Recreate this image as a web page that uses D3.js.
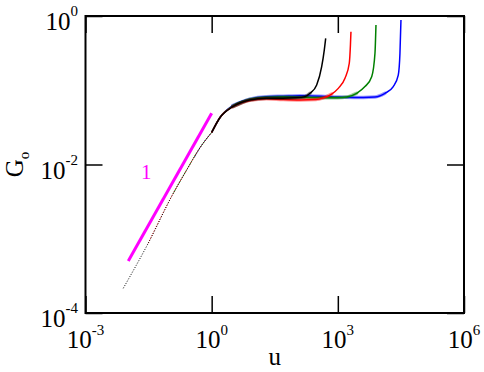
<!DOCTYPE html>
<html>
<head>
<meta charset="utf-8">
<script src="https://cdn.jsdelivr.net/npm/d3@7"></script>
<style>
  body { margin: 0; background: #fff; }
  text { font-family: "Liberation Serif", "Times New Roman", serif; }
</style>
</head>
<body>
<script>
// tick values and labels
var xTicks = [1e-3, 1e0, 1e3, 1e6];
var xExp = ["-3", "0", "3", "6"];
var yTicks = [1e-4, 1e-2, 1e0];
var yExp = ["-4", "-2", "0"];

// four data sets (u, G_o)
var uBlack = [0.0079, 0.031, 0.1225, 0.25, 0.527, 1, 1.58, 3.16, 8, 20, 50, 100, 166, 218, 314, 413, 476, 514];
var gBlack = [2.15e-4, 8.7e-4, 0.0041, 0.0083, 0.0168, 0.027, 0.043, 0.060, 0.074, 0.078, 0.078, 0.079, 0.082, 0.091, 0.118, 0.208, 0.348, 0.50];

var uRed = [0.031, 0.1225, 0.25, 0.527, 1, 1.58, 3.16, 8, 20, 50, 126, 300, 451, 714, 1025, 1479, 1871, 1995, 2051];
var gRed = [8.7e-4, 0.0041, 0.0083, 0.0168, 0.027, 0.043, 0.060, 0.073, 0.077, 0.075, 0.074, 0.075, 0.079, 0.089, 0.106, 0.145, 0.231, 0.41, 0.615];

var uGreen = [0.1225, 0.25, 0.527, 1, 1.58, 3.16, 8, 20, 50, 126, 400, 1000, 1622, 2805, 4416, 6383, 7640, 8070];
var gGreen = [0.0041, 0.0083, 0.0168, 0.027, 0.043, 0.061, 0.075, 0.080, 0.081, 0.080, 0.079, 0.079, 0.081, 0.091, 0.112, 0.152, 0.315, 0.756];

var uBlue = [0.4, 0.527, 1, 1.58, 3.16, 8, 20, 50, 126, 400, 1000, 2500, 4027, 7640, 13200, 20800, 27350, 30000, 31700];
var gBlue = [0.0128, 0.0168, 0.027, 0.043, 0.062, 0.076, 0.082, 0.083, 0.084, 0.083, 0.081, 0.080, 0.080, 0.081, 0.091, 0.112, 0.160, 0.315, 0.883];

// slope-one guide line
var guideU = [0.0104, 1];
var guideG = [5.0e-4, 0.049];
var guideLabel = "1";

var series = [
  {name: "blue", color: "#0000ff", u: uBlue, g: gBlue},
  {name: "green", color: "#008000", u: uGreen, g: gGreen},
  {name: "red", color: "#ff0000", u: uRed, g: gRed},
  {name: "black", color: "#000000", u: uBlack, g: gBlack}
];

var margin = {top: 16, right: 20, bottom: 59, left: 85.5},
    width = 484 - margin.left - margin.right,
    height = 372 - margin.top - margin.bottom;

var svg = d3.select("body")
    .append("svg")
    .attr("width", 484)
    .attr("height", 372)
    .append("g")
    .attr("transform", "translate(" + margin.left + "," + margin.top + ")");

var x = d3.scaleLog().domain([1e-3, 1e6]).range([0, width]);
var y = d3.scaleLog().domain([1e-4, 1]).range([height, 0]);

var line = d3.line()
    .x(function(d) { return x(d[0]); })
    .y(function(d) { return y(d[1]); })
    .curve(d3.curveMonotoneX);

// curves: dotted thin at small u, noisy band on the plateau
series.forEach(function(s) {
  var pts = s.u.map(function(u, i) { return [u, s.g[i]]; });
  var low = pts.filter(function(d) { return d[0] <= 1; });
  var high = pts.filter(function(d) { return d[0] >= 1; });
  var band = pts.filter(function(d) { return d[0] >= 3.16 && d[1] < 0.095; });

  svg.append("path")
      .attr("d", line(low))
      .style("fill", "none")
      .style("stroke", s.color)
      .style("stroke-width", 1)
      .style("stroke-dasharray", "1,1.6");
  svg.append("path")
      .attr("d", line(band))
      .style("fill", "none")
      .style("stroke", s.color)
      .style("stroke-width", 3.5)
      .style("stroke-linecap", "round")
      .style("opacity", 0.4);
  svg.append("path")
      .attr("d", line(high))
      .style("fill", "none")
      .style("stroke", s.color)
      .style("stroke-width", 1.5);
});

// guide line
svg.append("path")
    .attr("d", d3.line()
        .x(function(d) { return x(d[0]); })
        .y(function(d) { return y(d[1]); })(guideU.map(function(u, i) { return [u, guideG[i]]; })))
    .style("stroke", "#ff00ff")
    .style("stroke-width", 3)
    .style("fill", "none");

svg.append("text")
    .attr("x", x(0.028))
    .attr("y", y(0.0064))
    .attr("text-anchor", "middle")
    .style("font-size", "21px")
    .style("fill", "#ff00ff")
    .text(guideLabel);

// frame
svg.append("rect")
    .attr("width", width)
    .attr("height", height)
    .style("fill", "none")
    .style("stroke", "#000")
    .style("stroke-width", 2);

// inward ticks, all four sides
var tickLen = 17;
svg.append("g")
    .attr("transform", "translate(0," + height + ")")
    .call(d3.axisBottom(x).tickValues(xTicks).tickSizeInner(-tickLen).tickSizeOuter(0).tickFormat(""));
svg.append("g")
    .call(d3.axisTop(x).tickValues(xTicks).tickSizeInner(-tickLen).tickSizeOuter(0).tickFormat(""));
svg.append("g")
    .call(d3.axisLeft(y).tickValues(yTicks).tickSizeInner(-tickLen).tickSizeOuter(0).tickFormat(""));
svg.append("g")
    .attr("transform", "translate(" + width + ",0)")
    .call(d3.axisRight(y).tickValues(yTicks).tickSizeInner(-tickLen).tickSizeOuter(0).tickFormat(""));
svg.selectAll(".domain").remove();
svg.selectAll(".tick line").style("stroke", "#000").style("stroke-width", 1.5);

// tick labels
var xl = svg.append("g").selectAll("text")
    .data(xTicks)
    .enter().append("text")
    .attr("x", function(d) { return x(d); })
    .attr("y", height + 35)
    .attr("text-anchor", "middle")
    .style("font-size", "25px");
xl.append("tspan").text("10");
xl.append("tspan").attr("dy", -13).style("font-size", "15px").text(function(d, i) { return xExp[i]; });

var yl = svg.append("g").selectAll("text")
    .data(yTicks)
    .enter().append("text")
    .attr("x", -7.5)
    .attr("y", function(d) { return y(d) + 14; })
    .attr("text-anchor", "end")
    .style("font-size", "25px");
yl.append("tspan").text("10");
yl.append("tspan").attr("dy", -14).style("font-size", "15px").text(function(d, i) { return yExp[i]; });

// axis titles
svg.append("text")
    .attr("x", width / 2)
    .attr("y", height + 52)
    .attr("text-anchor", "middle")
    .style("font-size", "25px")
    .text("u");

var yt = svg.append("text")
    .attr("transform", "translate(" + (23 - margin.left) + "," + (height / 2) + ") rotate(-90)")
    .attr("text-anchor", "middle")
    .style("font-size", "25px");
yt.append("tspan").text("G");
yt.append("tspan").attr("dy", 6).style("font-size", "15px").text("o");
</script>
</body>
</html>
